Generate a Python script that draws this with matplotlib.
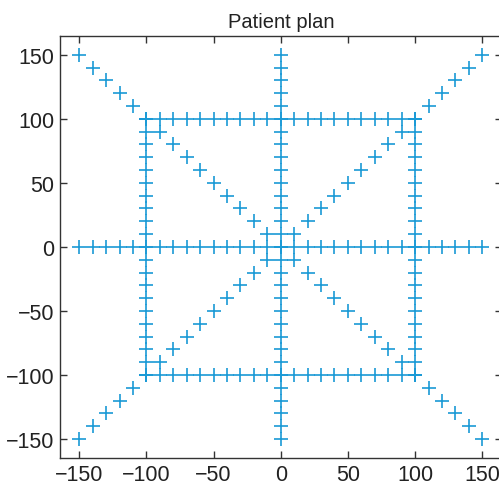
import numpy as np
import matplotlib
matplotlib.use("Agg")
import matplotlib.pyplot as plt

plt.rcParams['font.family'] = ['Liberation Sans', 'DejaVu Sans']

# Beam positions along the main axes and diagonals (mm)
beam_positions = [-150, -140, -130, -120, -110, -100, -90, -80, -70, -60, -50,
                  -40, -30, -20, -10, 0, 10, 20, 30, 40, 50, 60, 70, 80, 90,
                  100, 110, 120, 130, 140, 150]
# Positions along the edges of the square field (mm)
field_positions = [-100, -90, -80, -70, -60, -50, -40, -30, -20, -10, 0,
                   10, 20, 30, 40, 50, 60, 70, 80, 90, 100]
field_edge = 100

tick_values = [-150, -100, -50, 0, 50, 100, 150]
title_text = "Patient plan"

b = np.array(beam_positions, dtype=float)
f = np.array(field_positions, dtype=float)
zb = np.zeros_like(b)

xs = np.concatenate([
    b, zb,                 # horizontal and vertical axis lines
    b, b,                  # the two diagonals
    np.full_like(f, -field_edge), np.full_like(f, field_edge), f, f,  # square
])
ys = np.concatenate([
    zb, b,
    b, -b,
    f, f, np.full_like(f, -field_edge), np.full_like(f, field_edge),
])

W, H = 499, 489
fig = plt.figure(figsize=(W / 100, H / 100), dpi=100)
left, right, top, bottom = 60, 501.5, 36.5, 459.3
ax = fig.add_axes([left / W, 1 - bottom / H, (right - left) / W, (bottom - top) / H])

ax.plot(xs, ys, linestyle='none', marker='+', markersize=10.5,
        markeredgewidth=1.2, color='#1a9ad6')

ax.set_xlim(-164.3, 164.3)
ax.set_ylim(-165, 165)
ax.set_xticks(tick_values)
ax.set_yticks(tick_values)
ax.set_xticklabels([f"{v}".replace('-', '\u2212') for v in tick_values])
ax.set_yticklabels([f"{v}".replace('-', '\u2212') for v in tick_values])

ax.tick_params(direction='in', length=5, width=1.0, color='#333333',
               top=True, right=True, labelsize=15.5, labelcolor='#222222',
               pad=4)
for s in ax.spines.values():
    s.set_color('#333333')
    s.set_linewidth(1.0)

ax.set_title(title_text, fontsize=14.5, color='#222222', pad=6)

fig.savefig("out.png", dpi=100)
